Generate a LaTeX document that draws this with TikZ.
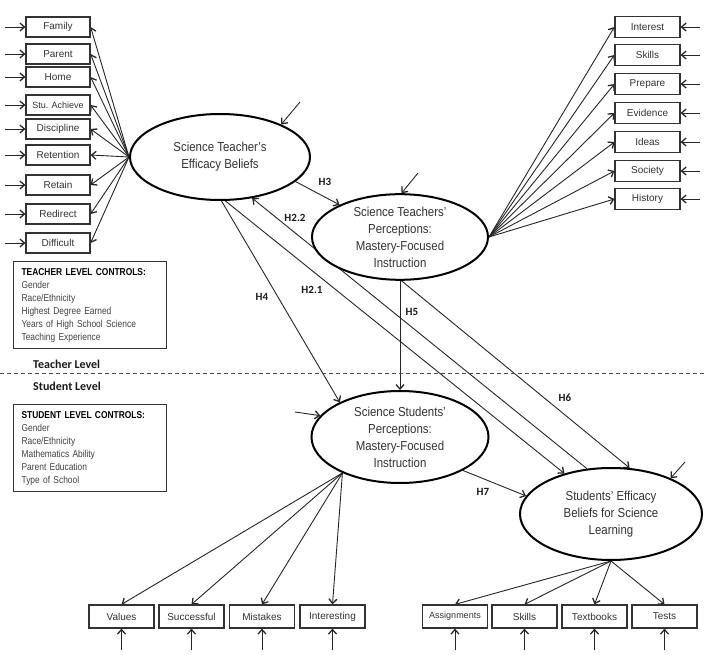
\documentclass[tikz,border=0pt]{standalone}
\usepackage{fontspec}
\setmainfont{Liberation Sans}
\newfontfamily\ellfont[FakeStretch=0.88]{Liberation Sans}
\newfontfamily\ctrlfont[FakeStretch=0.84]{Liberation Sans}
\newfontfamily\hypfont{Carlito}
\usetikzlibrary{arrows.meta,shapes.geometric}
\pgfdeclarelayer{back}
\pgfsetlayers{back,main}
\newcommand{\ctrltitle}[1]{{\color{black}\bfseries #1}}
\begin{document}
\begin{tikzpicture}[x=1pt,y=-1pt,
  ind/.style={draw=black!80,line width=1.2pt,minimum width=64pt,minimum height=20pt,
    inner sep=0pt,fill=white,text=black!80,font=\fontsize{10}{12}\selectfont},
  latent/.style={ellipse,draw=black,line width=2pt,fill=white,inner sep=0pt,
    align=center,text=black!80,font=\ellfont\fontsize{13}{17}\selectfont},
  arr/.style={draw=black!85,line width=0.9pt,
    -{Straight Barb[length=4.5pt,width=8pt,line width=1.3pt]}},
  hyp/.style={inner sep=0pt,text=black!90,font=\hypfont\bfseries\fontsize{11}{13}\selectfont},
  lvl/.style={inner sep=0pt,anchor=west,text=black!90,font=\hypfont\bfseries\fontsize{12}{14}\selectfont},
  ctrl/.style={draw=black!80,line width=1.2pt,anchor=north west,text width=137pt,
    minimum height=87pt,inner xsep=8pt,inner ysep=4pt,align=left,text=black!75,
    font=\ctrlfont\fontsize{10}{13}\selectfont}
]
\useasboundingbox (0,0) rectangle (705,655);

% latent variables
\node[latent,minimum width=180pt,minimum height=86pt] (TE) at (220,157)
  {Science Teacher’s\\Efficacy Beliefs};
\node[latent,minimum width=176pt,minimum height=84pt] (TP) at (400,237)
  {Science Teachers’\\Perceptions:\\Mastery-Focused\\Instruction};
\node[latent,minimum width=177pt,minimum height=92pt] (SP) at (400,437)
  {Science Students’\\Perceptions:\\Mastery-Focused\\Instruction};
\node[latent,minimum width=182pt,minimum height=92pt] (SE) at (611,514)
  {Students’ Efficacy\\Beliefs for Science\\Learning};

% teacher efficacy indicators
\foreach \nm/\txt/\yy in {fam/Family/27, par/Parent/54, hom/Home/77,
    dis/Discipline/129, ret/Retention/155, rtn/Retain/185,
    red/Redirect/214, dif/Difficult/243} {
  \node[ind] (\nm) at (58,\yy) {\txt};
  \coordinate (\nm e) at (5,\yy);
}
\node[ind,font=\fontsize{9}{11}\selectfont] (stu) at (58,105) {Stu. Achieve};
\coordinate (stue) at (5,105);

% teacher perception indicators
\foreach \nm/\txt/\yy in {int/Interest/27, tsk/Skills/55, pre/Prepare/84,
    evi/Evidence/113, ide/Ideas/142, soc/Society/171, his/History/199} {
  \node[ind,minimum width=65pt,minimum height=21pt] (\nm) at (647.5,\yy) {\txt};
  \coordinate (\nm e) at (700,\yy);
}

% student perception indicators
\foreach \nm/\txt/\xx in {val/Values/121.5, suc/Successful/191.5,
    mis/Mistakes/262, ints/Interesting/332.5} {
  \node[ind,minimum width=65pt,minimum height=23pt] (\nm) at (\xx,616.5) {\txt};
  \coordinate (\nm e) at (\xx,650);
}

% student efficacy indicators
\node[ind,minimum width=65pt,minimum height=23pt,font=\fontsize{9}{11}\selectfont]
  (asg) at (455,616.5) {Assignments};
\coordinate (asge) at (455,650);
\foreach \nm/\txt/\xx in {ssk/Skills/524.5, txt/Textbooks/594.5, tst/Tests/664.5} {
  \node[ind,minimum width=65pt,minimum height=23pt] (\nm) at (\xx,616.5) {\txt};
  \coordinate (\nm e) at (\xx,650);
}

% control variable boxes
\node[ctrl] (tctrl) at (13,261) {\ctrltitle{TEACHER LEVEL CONTROLS:}\\Gender\\Race/Ethnicity\\
  Highest Degree Earned\\Years of High School Science\\Teaching Experience};
\node[ctrl] (sctrl) at (13,404) {\ctrltitle{STUDENT LEVEL CONTROLS:}\\Gender\\Race/Ethnicity\\
  Mathematics Ability\\Parent Education\\Type of School};

% level divider
\coordinate (dl) at (0,374);
\coordinate (dr) at (705,374);
\draw[black!70,line width=1pt,dash pattern=on 4pt off 3pt] (dl) -- (dr);
\node[lvl] (tlev) at (33,364) {Teacher Level};
\node[lvl] (slev) at (33,386) {Student Level};

% disturbance terms
\coordinate (dTE) at (300,102);
\coordinate (dTP) at (418,173);
\coordinate (dSP) at (295,412);
\coordinate (dSE) at (685,462);

\begin{pgfonlayer}{back}
  % measurement paths
  \foreach \nm in {fam,par,hom,stu,dis,ret,rtn,red,dif} {
    \draw[arr] (TE.west) -- (\nm.east);
    \draw[arr] (\nm e) -- (\nm.west);
  }
  \foreach \nm in {int,tsk,pre,evi,ide,soc,his} {
    \draw[arr] (TP.east) -- (\nm.west);
    \draw[arr] (\nm e) -- (\nm.east);
  }
  \foreach \nm in {val,suc,mis,ints} {
    \draw[arr] (SP.-148) -- (\nm.north);
    \draw[arr] (\nm e) -- (\nm.south);
  }
  \foreach \nm in {asg,ssk,txt,tst} {
    \draw[arr] (SE.south) -- (\nm.north);
    \draw[arr] (\nm e) -- (\nm.south);
  }
  % disturbances
  \draw[arr] (dTE) -- (TE.28);
  \draw[arr] (dTP) -- (TP.88);
  \draw[arr] (dSP) -- (SP.165);
  \draw[arr] (dSE) -- (SE.31);
  % structural paths
  \draw[arr] (TE.-18) -- (TP.152);
  \draw[arr] (TE.-88) -- (SP.150);
  \draw[arr] (TE.-83) -- (SE.139);
  \draw[arr] (SE.118) -- (TE.-52);
  \draw[arr] (TP.south) -- (SP.north);
  \draw[arr] (TP.-88) -- (SE.68);
  \draw[arr] (SP.-28) -- (SE.168);
\end{pgfonlayer}

% hypothesis labels
\node[hyp] (h3) at (325,182) {H3};
\node[hyp] (h22) at (295,218) {H2.2};
\node[hyp] (h4) at (262,297) {H4};
\node[hyp] (h21) at (312,290) {H2.1};
\node[hyp] (h5) at (412,312) {H5};
\node[hyp] (h6) at (565,398) {H6};
\node[hyp] (h7) at (483,492) {H7};
\end{tikzpicture}
\end{document}
